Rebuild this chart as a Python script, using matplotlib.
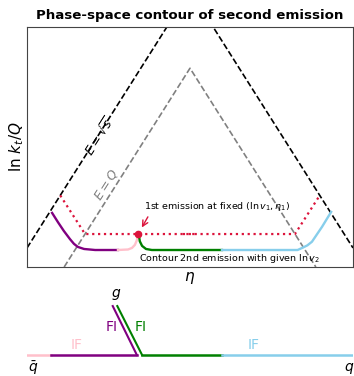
import matplotlib
matplotlib.use('Agg')
import matplotlib.pyplot as plt

# upper panel: eta vs ln kt/Q
eta_c = 5.0
ln_sqrt_s = 5.37   # apex of E = sqrt(s) lines
ln_Q = 3.86        # apex of E = Q lines

purple_x = [0.77, 0.95, 1.13, 1.32, 1.44, 1.56, 1.75, 2.09, 2.79]
purple_y = [1.05, 0.87, 0.70, 0.54, 0.45, 0.39, 0.35, 0.33, 0.33]
pink_x = [2.79, 3.10, 3.22, 3.31, 3.37, 3.40]
pink_y = [0.33, 0.34, 0.37, 0.43, 0.52, 0.63]
green_x = [3.43, 3.46, 3.53, 3.65, 3.83, 5.98]
green_y = [0.63, 0.50, 0.41, 0.35, 0.33, 0.33]
blue_x = [5.98, 8.30, 8.44, 8.60, 8.74, 9.05, 9.33]
blue_y = [0.33, 0.33, 0.37, 0.42, 0.49, 0.78, 1.07]

dot_a_x = [1.02, 1.78, 5.25]
dot_a_y = [1.39, 0.64, 0.64]
dot_b_x = [4.78, 8.22, 8.98]
dot_b_y = [0.64, 0.64, 1.39]

emis1 = (3.40, 0.64)

# lower panel: colour flow diagram
base_pink = [0.0, 0.74]
base_purple = [0.74, 3.37]
base_green = [3.53, 5.98]
base_blue = [5.98, 10.0]
g_purple_x = [3.37, 2.63]
g_green_x = [3.53, 2.77]

fig = plt.figure(figsize=(3.54, 3.76), dpi=100)
ax = fig.add_axes([27/354, 109/376, 326/354, 240/376])

ax.plot([0, eta_c], [ln_sqrt_s - eta_c, ln_sqrt_s], 'k--', lw=1.2)
ax.plot([eta_c, 10], [ln_sqrt_s, ln_sqrt_s - eta_c], 'k--', lw=1.2)
ax.plot([eta_c - ln_Q, eta_c, eta_c + ln_Q], [0, ln_Q, 0], '--', color='gray', lw=1.2)

ax.plot(dot_a_x, dot_a_y, ':', color='crimson', lw=1.6)
ax.plot(dot_b_x, dot_b_y, ':', color='crimson', lw=1.6)

ax.plot(purple_x, purple_y, color='purple', lw=1.7)
ax.plot(pink_x, pink_y, color='pink', lw=1.7)
ax.plot(green_x, green_y, color='green', lw=1.7)
ax.plot(blue_x, blue_y, color='skyblue', lw=1.7)
ax.plot(*emis1, 'o', color='crimson', ms=4.5)

ax.annotate('', xy=(emis1[0] + 0.08, emis1[1] + 0.08), xytext=(3.75, 1.02),
            arrowprops=dict(arrowstyle='->', color='crimson', lw=1.0))
ax.text(3.6, 1.18, r'1st emission at fixed $(\ln v_1,\eta_1)$', fontsize=6.8,
        ha='left', va='center')
ax.text(3.45, 0.17, r'Contour 2nd emission with given $\ln v_2$', fontsize=6.8,
        ha='left', va='center')
ax.text(2.24, 2.54, r'$E=\sqrt{s}$', rotation=57.5, fontsize=9,
        ha='center', va='center', rotation_mode='anchor')
ax.text(2.45, 1.60, r'$E=Q$', rotation=57.5, fontsize=9, color='gray',
        ha='center', va='center', rotation_mode='anchor')

ax.set_xlim(0, 10)
ax.set_ylim(0, 4.66)
ax.set_xticks([])
ax.set_yticks([])
ax.set_xlabel(r'$\eta$', fontsize=11, labelpad=2)
ax.set_ylabel(r'ln $k_t/Q$', fontsize=11, labelpad=1)
ax.set_title('Phase-space contour of second emission', fontsize=9.6,
             fontweight='bold', pad=6)
for s in ax.spines.values():
    s.set_color('#444444')

bx = fig.add_axes([27/354, 0, 326/354, 90/376])
bx.plot(base_pink, [0, 0], color='pink', lw=1.8)
bx.plot(base_purple, [0, 0], color='purple', lw=1.8)
bx.plot(base_green, [0, 0], color='green', lw=1.8)
bx.plot(base_blue, [0, 0], color='skyblue', lw=1.8)
bx.plot(g_purple_x, [0, 1], color='purple', lw=1.5)
bx.plot(g_green_x, [0, 1], color='green', lw=1.5)
bx.text(1.51, 0.2, 'IF', color='pink', fontsize=10, ha='center', va='center')
bx.text(2.61, 0.58, 'FI', color='purple', fontsize=10, ha='center', va='center')
bx.text(3.50, 0.58, 'FI', color='green', fontsize=10, ha='center', va='center')
bx.text(6.96, 0.2, 'IF', color='skyblue', fontsize=10, ha='center', va='center')
bx.text(0.18, -0.27, r'$\bar{q}$', fontsize=10, ha='center', va='center')
bx.text(9.88, -0.27, r'$q$', fontsize=10, ha='center', va='center')
bx.text(2.73, 1.24, r'$g$', fontsize=10, ha='center', va='center')
bx.set_xlim(0, 10)
bx.set_ylim(-0.43, 1.41)
bx.axis('off')

fig.savefig('out.png', dpi=100)
